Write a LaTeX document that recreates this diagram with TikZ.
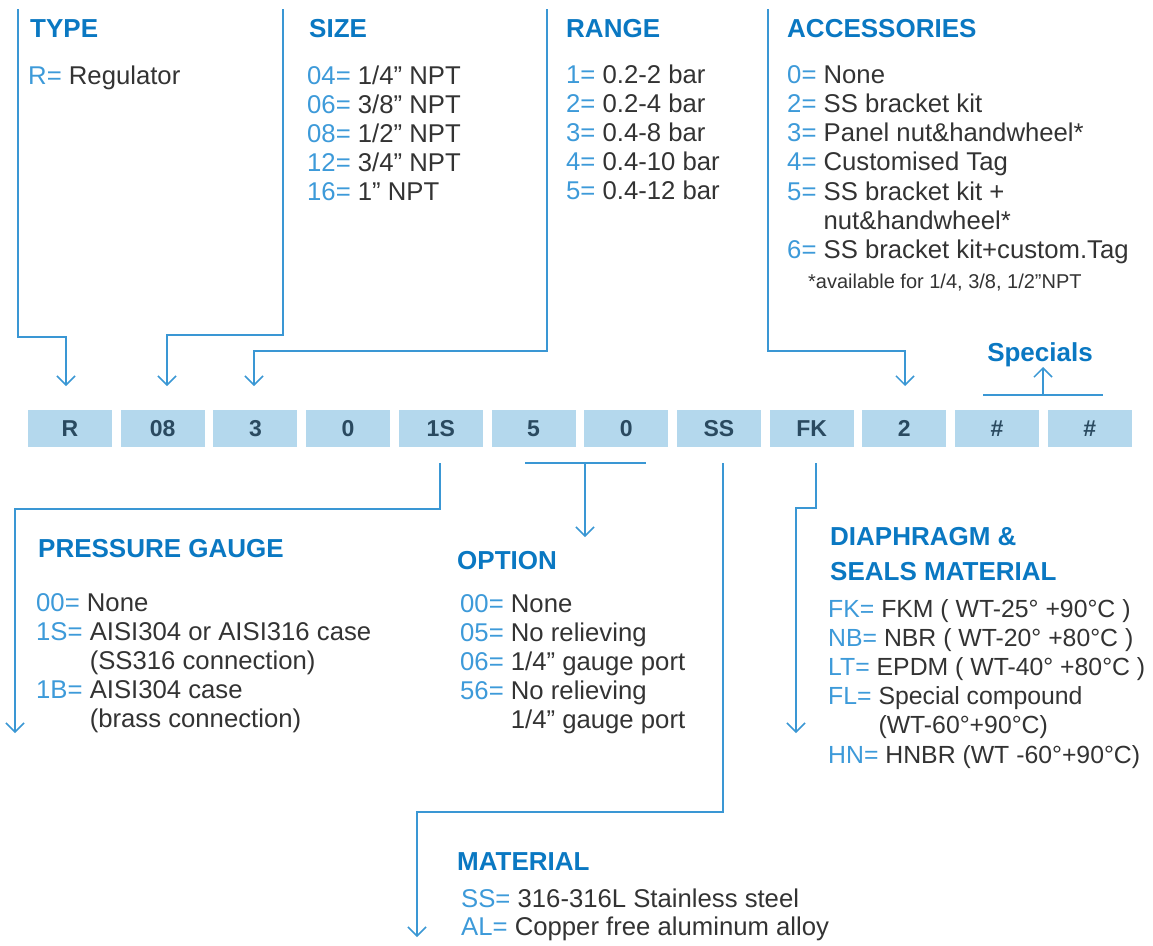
\documentclass[tikz,border=0pt]{standalone}
\usepackage{fontspec}
\setmainfont{Liberation Sans}
\usetikzlibrary{arrows.meta}
\definecolor{headblue}{HTML}{0A78C2}
\definecolor{codeblue}{HTML}{3D9AD9}
\definecolor{lineblue}{HTML}{3A97D4}
\definecolor{boxfill}{HTML}{B4D8ED}
\definecolor{boxtext}{HTML}{2A4A60}
\definecolor{bodytext}{HTML}{333333}
\newcommand\cd[1]{\textcolor{codeblue}{#1}}
\newcommand\ind[1]{\phantom{#1}}
\begin{document}
\begin{tikzpicture}[x=1pt,y=-1pt,
 conn/.style={draw=lineblue,line width=1.5pt},
 tipped/.style={-{Straight Barb[length=9pt,width=18pt]}},
 head/.style={anchor=base west,inner sep=0pt,text=headblue,font=\fontsize{26}{30}\selectfont\bfseries},
 txt/.style={anchor=base west,inner sep=0pt,text=bodytext,font=\fontsize{25.7}{29}\selectfont},
 txtn/.style={txt,font=\fontsize{24.8}{29}\selectfont},
 note/.style={anchor=base west,inner sep=0pt,text=bodytext,font=\fontsize{20}{24}\selectfont},
 codebox/.style={fill=boxfill,minimum width=84pt,minimum height=37pt,inner sep=0pt,text=boxtext,font=\fontsize{23}{27}\selectfont\bfseries},
]
\useasboundingbox (0,0) rectangle (1153,945);

% code boxes
\node[codebox] (bR)  at (70,428.5) {R};
\node[codebox] (b08) at (162.7,428.5) {08};
\node[codebox] (b3)  at (255.4,428.5) {3};
\node[codebox] (b0a) at (348.1,428.5) {0};
\node[codebox] (b1S) at (440.8,428.5) {1S};
\node[codebox] (b5)  at (533.5,428.5) {5};
\node[codebox] (b0b) at (626.2,428.5) {0};
\node[codebox] (bSS) at (718.9,428.5) {SS};
\node[codebox] (bFK) at (811.6,428.5) {FK};
\node[codebox] (b2)  at (904.3,428.5) {2};
\node[codebox] (bHa) at (997,428.5) {\#};
\node[codebox] (bHb) at (1089.7,428.5) {\#};

% TYPE
\node[head] (hType) at (30,37) {TYPE};
\node[txt] (t1) at (28,84) {\cd{R=} Regulator};

% SIZE
\node[head] (hSize) at (309,37) {SIZE};
\node[txt] (s1) at (307,84) {\cd{04=} 1/4” NPT};
\node[txt] (s2) at (307,113) {\cd{06=} 3/8” NPT};
\node[txt] (s3) at (307,142) {\cd{08=} 1/2” NPT};
\node[txt] (s4) at (307,171) {\cd{12=} 3/4” NPT};
\node[txt] (s5) at (307,200) {\cd{16=} 1” NPT};

% RANGE
\node[head] (hRange) at (566,37) {RANGE};
\node[txt] (r1) at (566,83) {\cd{1=} 0.2-2 bar};
\node[txt] (r2) at (566,112) {\cd{2=} 0.2-4 bar};
\node[txt] (r3) at (566,141) {\cd{3=} 0.4-8 bar};
\node[txt] (r4) at (566,170) {\cd{4=} 0.4-10 bar};
\node[txt] (r5) at (566,199) {\cd{5=} 0.4-12 bar};

% ACCESSORIES
\node[head] (hAcc) at (787,37) {ACCESSORIES};
\node[txt] (a1) at (787,83) {\cd{0=} None};
\node[txt] (a2) at (787,112) {\cd{2=} SS bracket kit};
\node[txt] (a3) at (787,141) {\cd{3=} Panel nut\&handwheel*};
\node[txt] (a4) at (787,170) {\cd{4=} Customised Tag};
\node[txt] (a5) at (787,200) {\cd{5=} SS bracket kit +};
\node[txt] (a6) at (787,229) {\ind{5= }nut\&handwheel*};
\node[txt] (a7) at (787,258) {\cd{6=} SS bracket kit+custom.Tag};
\node[note] (aN) at (808,288) {*available for 1/4, 3/8, 1/2”NPT};

% Specials
\node[anchor=base,inner sep=0pt,text=headblue,font=\fontsize{26}{30}\selectfont\bfseries] (hSpec) at (1040,361) {Specials};

% PRESSURE GAUGE
\node[head] (hPG) at (38,557) {PRESSURE GAUGE};
\node[txt] (p1) at (36,611) {\cd{00=} None};
\node[txt] (p2) at (36,640) {\cd{1S=} AISI304 or AISI316 case};
\node[txt] (p3) at (36,669) {\ind{1S= }(SS316 connection)};
\node[txt] (p4) at (36,698) {\cd{1B=} AISI304 case};
\node[txt] (p5) at (36,727) {\ind{1S= }(brass connection)};

% OPTION
\node[head] (hOpt) at (457,569) {OPTION};
\node[txt] (o1) at (460,612) {\cd{00=} None};
\node[txt] (o2) at (460,641) {\cd{05=} No relieving};
\node[txt] (o3) at (460,670) {\cd{06=} 1/4” gauge port};
\node[txt] (o4) at (460,699) {\cd{56=} No relieving};
\node[txt] (o5) at (460,728) {\ind{56= }1/4” gauge port};

% DIAPHRAGM
\node[head] (hDia1) at (830,545) {DIAPHRAGM \&};
\node[head] (hDia2) at (830,580) {SEALS MATERIAL};
\node[txtn] (d1) at (828,617) {\cd{FK=} FKM ( WT-25° +90°C )};
\node[txtn] (d2) at (828,646) {\cd{NB=} NBR ( WT-20° +80°C )};
\node[txtn] (d3) at (828,675) {\cd{LT=} EPDM ( WT-40° +80°C )};
\node[txtn] (d4) at (828,704) {\cd{FL=} Special compound};
\node[txtn] (d5) at (828,733) {\ind{FL= }(WT-60°+90°C)};
\node[txtn] (d6) at (828,763) {\cd{HN=} HNBR (WT -60°+90°C)};

% MATERIAL
\node[head] (hMat) at (457,870) {MATERIAL};
\node[txt] (m1) at (461,907) {\cd{SS=} 316-316L Stainless steel};
\node[txt] (m2) at (461,935) {\cd{AL=} Copper free aluminum alloy};

% connector ends
\coordinate (tyTop) at (18,9);   \coordinate (tyTip) at (66,386);
\coordinate (szTop) at (283,9);  \coordinate (szTip) at (167,386);
\coordinate (rgTop) at (547,9);  \coordinate (rgTip) at (254,386);
\coordinate (acTop) at (768,9);  \coordinate (acTip) at (905,386);
\coordinate (spL) at (983,395);  \coordinate (spR) at (1103,395);
\coordinate (spMid) at (1043,395); \coordinate (spTip) at (1043,367);
\coordinate (pgTop) at (440,463); \coordinate (pgTip) at (15,733);
\coordinate (opL) at (525,463);  \coordinate (opR) at (646,463);
\coordinate (opMid) at (585,463); \coordinate (opTip) at (585,537);
\coordinate (maTop) at (723,463); \coordinate (maTip) at (417,937);
\coordinate (dpTop) at (816,463); \coordinate (dpTip) at (796,733);

% connectors
\draw[conn,tipped] (tyTop) -- ++(0,328) -| (tyTip);
\draw[conn,tipped] (szTop) -- ++(0,326) -| (szTip);
\draw[conn,tipped] (rgTop) -- ++(0,342) -| (rgTip);
\draw[conn,tipped] (acTop) -- ++(0,342) -| (acTip);
\draw[conn] (spL) -- (spR);
\draw[conn,tipped] (spMid) -- (spTip);
\draw[conn,tipped] (pgTop) -- ++(0,46) -| (pgTip);
\draw[conn] (opL) -- (opR);
\draw[conn,tipped] (opMid) -- (opTip);
\draw[conn,tipped] (maTop) -- ++(0,349) -| (maTip);
\draw[conn,tipped] (dpTop) -- ++(0,45) -| (dpTip);
\end{tikzpicture}
\end{document}
